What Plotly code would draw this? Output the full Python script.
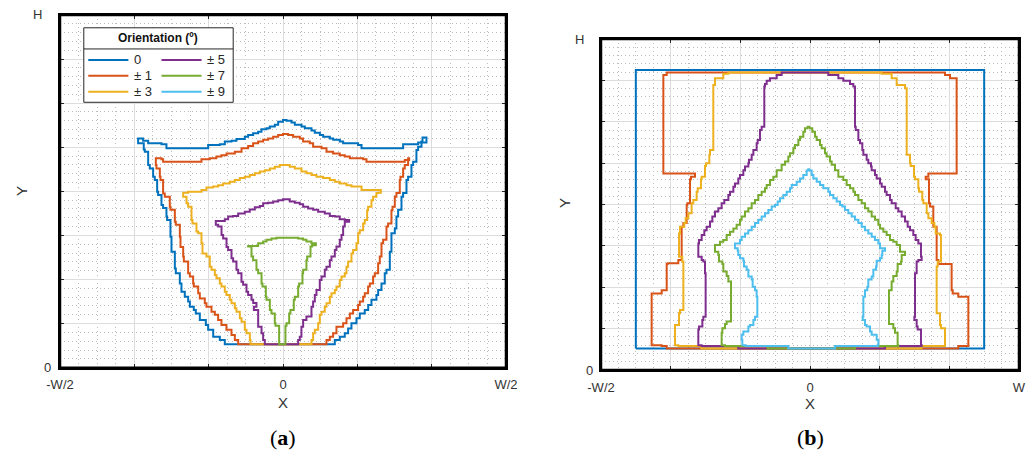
import plotly.graph_objects as go

# ---------------- data ----------------
COLORS = ["#0072BD", "#D95319", "#EDB120", "#7E2F8E", "#77AC30", "#4DBEEE"]
LEGEND_TITLE = "Orientation (º)"
LEGEND_LABELS = ["0", "± 1", "± 3", "± 5", "± 7", "± 9"]

X_TICKVALS = [-3, -2, -1, 0, 1, 2, 3]
X_TICKTEXT_A = ["-W/2", "", "", "0", "", "", "W/2"]
X_TICKTEXT_B = ["-W/2", "", "", "0", "", "", "W"]
Y_TICKVALS = [0, 1, 2, 3, 4, 5, 6, 7, 8]
Y_END_LABELS = ["0", "H"]

# panel (a): closed contours, (x, y) vertices
A0 = [(-0.716, 0.53), (-0.783, 0.63), (-0.85, 0.70), (-0.939, 0.86), (-1.007, 0.97), (-1.038, 1.08),
      (-1.119, 1.23), (-1.173, 1.31), (-1.2, 1.38), (-1.253, 1.50), (-1.276, 1.61), (-1.321, 1.72),
      (-1.366, 1.91), (-1.388, 2.14), (-1.442, 2.25), (-1.455, 2.63), (-1.5, 2.97), (-1.514, 3.35),
      (-1.559, 3.43), (-1.568, 3.62), (-1.613, 3.69), (-1.635, 3.92), (-1.680, 3.99), (-1.693, 4.26),
      (-1.725, 4.33), (-1.747, 4.52), (-1.792, 4.60), (-1.814, 4.90), (-1.859, 4.95), (-1.873, 5.09),
      (-1.949, 5.20), (-1.882, 5.15), (-1.814, 5.09), (-1.635, 5.07), (-1.568, 4.98), (-1.084, 4.98),
      (-1.007, 5.05), (-0.850, 5.07), (-0.783, 5.13), (-0.693, 5.15), (-0.626, 5.19), (-0.514, 5.24),
      (-0.469, 5.28), (-0.402, 5.32), (-0.334, 5.35), (-0.29, 5.41), (-0.222, 5.43), (-0.178, 5.47),
      (-0.11, 5.51), (-0.065, 5.58), (0.0, 5.62), (0.047, 5.60), (0.114, 5.56), (0.159, 5.51),
      (0.249, 5.47), (0.294, 5.43), (0.383, 5.38), (0.428, 5.33), (0.496, 5.28), (0.54, 5.24),
      (0.63, 5.20), (0.675, 5.17), (0.764, 5.13), (0.809, 5.09), (1.01, 5.05), (1.056, 4.98),
      (1.571, 4.98), (1.616, 5.07), (1.728, 5.07), (1.818, 5.11), (1.93, 5.22), (1.877, 5.13),
      (1.863, 5.01), (1.818, 4.94), (1.795, 4.67), (1.751, 4.60), (1.728, 4.33), (1.683, 4.26),
      (1.661, 3.96), (1.616, 3.88), (1.594, 3.58), (1.549, 3.43), (1.526, 3.16), (1.504, 3.05),
      (1.459, 2.63), (1.437, 2.22), (1.392, 2.14), (1.369, 1.91), (1.325, 1.76), (1.28, 1.65),
      (1.257, 1.54), (1.19, 1.42), (1.146, 1.31), (1.1, 1.23), (1.033, 1.12), (0.988, 1.01),
      (0.921, 0.89), (0.876, 0.78), (0.831, 0.70), (0.764, 0.63), (0.697, 0.53), (-0.716, 0.53)]

A1 = [(-0.581, 0.53), (-0.603, 0.63), (-0.648, 0.74), (-0.693, 0.86), (-0.761, 0.97), (-0.828, 1.08),
      (-0.873, 1.20), (-0.917, 1.27), (-0.962, 1.38), (-1.03, 1.46), (-1.052, 1.57), (-1.119, 1.69),
      (-1.141, 1.84), (-1.2, 1.91), (-1.209, 2.07), (-1.253, 2.14), (-1.276, 2.41), (-1.334, 2.52),
      (-1.343, 2.74), (-1.379, 2.97), (-1.388, 3.24), (-1.442, 3.31), (-1.455, 3.58), (-1.514, 3.65),
      (-1.523, 3.88), (-1.59, 3.95), (-1.613, 4.26), (-1.648, 4.33), (-1.657, 4.52), (-1.702, 4.60),
      (-1.711, 4.75), (-1.635, 4.73), (-1.613, 4.67), (-1.142, 4.67), (-1.097, 4.73), (-0.985, 4.75),
      (-0.896, 4.79), (-0.829, 4.82), (-0.76, 4.86), (-0.648, 4.90), (-0.558, 4.98), (-0.469, 5.03),
      (-0.402, 5.09), (-0.334, 5.13), (-0.267, 5.17), (-0.2, 5.20), (-0.132, 5.24), (-0.065, 5.28),
      (0.0, 5.30), (0.069, 5.28), (0.136, 5.24), (0.226, 5.20), (0.27, 5.13), (0.36, 5.09),
      (0.405, 5.01), (0.518, 4.98), (0.585, 4.90), (0.674, 4.86), (0.764, 4.82), (0.831, 4.79),
      (0.899, 4.75), (1.078, 4.73), (1.123, 4.67), (1.594, 4.67), (1.638, 4.71), (1.697, 4.75),
      (1.683, 4.60), (1.638, 4.52), (1.616, 4.33), (1.58, 4.26), (1.571, 3.96), (1.526, 3.88),
      (1.504, 3.65), (1.473, 3.57), (1.459, 3.27), (1.414, 3.20), (1.392, 2.90), (1.347, 2.82),
      (1.325, 2.52), (1.302, 2.37), (1.28, 2.14), (1.235, 2.07), (1.212, 1.91), (1.168, 1.84),
      (1.145, 1.69), (1.1, 1.61), (1.078, 1.50), (1.033, 1.42), (1.01, 1.31), (0.943, 1.23),
      (0.899, 1.12), (0.854, 1.01), (0.809, 0.93), (0.719, 0.78), (0.674, 0.70), (0.63, 0.63),
      (0.585, 0.53), (-0.581, 0.53)]

A3 = [(-0.424, 0.53), (-0.437, 0.63), (-0.446, 0.78), (-0.491, 0.86), (-0.514, 1.04), (-0.558, 1.12),
      (-0.581, 1.27), (-0.626, 1.35), (-0.648, 1.46), (-0.693, 1.54), (-0.716, 1.65), (-0.761, 1.72),
      (-0.783, 1.84), (-0.828, 1.91), (-0.85, 2.03), (-0.895, 2.10), (-0.917, 2.22), (-0.962, 2.29),
      (-0.985, 2.52), (-1.03, 2.59), (-1.083, 2.82), (-1.097, 3.05), (-1.141, 3.09), (-1.164, 3.27),
      (-1.218, 3.35), (-1.231, 3.65), (-1.276, 3.73), (-1.298, 3.88), (-1.343, 3.97), (-1.276, 3.99),
      (-1.097, 4.03), (-1.03, 4.09), (-0.94, 4.11), (-0.873, 4.14), (-0.806, 4.18), (-0.716, 4.22),
      (-0.649, 4.26), (-0.581, 4.30), (-0.514, 4.33), (-0.446, 4.37), (-0.379, 4.41), (-0.312, 4.45),
      (-0.244, 4.48), (-0.177, 4.52), (-0.11, 4.56), (-0.043, 4.60), (0.024, 4.60), (0.091, 4.56),
      (0.159, 4.52), (0.248, 4.45), (0.316, 4.41), (0.383, 4.37), (0.45, 4.33), (0.54, 4.30),
      (0.63, 4.26), (0.697, 4.22), (0.764, 4.18), (0.854, 4.14), (0.921, 4.11), (1.056, 4.03),
      (1.145, 4.03), (1.316, 3.97), (1.28, 3.96), (1.257, 3.88), (1.212, 3.80), (1.19, 3.65),
      (1.145, 3.57), (1.132, 3.35), (1.1, 3.27), (1.078, 3.12), (1.033, 3.05), (1.011, 2.82),
      (0.988, 2.67), (0.943, 2.59), (0.921, 2.41), (0.876, 2.29), (0.854, 2.14), (0.831, 2.07),
      (0.787, 1.99), (0.764, 1.84), (0.719, 1.76), (0.697, 1.69), (0.652, 1.61), (0.63, 1.46),
      (0.585, 1.38), (0.562, 1.27), (0.518, 1.20), (0.495, 1.01), (0.473, 0.86), (0.428, 0.78),
      (0.405, 0.63), (0.383, 0.53), (-0.424, 0.53)]

A5 = [(-0.231, 0.53), (-0.245, 0.63), (-0.267, 0.78), (-0.289, 0.93), (-0.334, 1.01), (-0.334, 1.31),
      (-0.392, 1.38), (-0.357, 1.47), (-0.401, 1.54), (-0.424, 1.65), (-0.469, 1.72), (-0.491, 1.88),
      (-0.536, 1.95), (-0.559, 2.14), (-0.603, 2.22), (-0.626, 2.41), (-0.671, 2.48), (-0.693, 2.67),
      (-0.738, 2.74), (-0.76, 2.93), (-0.805, 3.01), (-0.827, 3.20), (-0.872, 3.24), (-0.904, 3.33),
      (-0.783, 3.37), (-0.738, 3.43), (-0.671, 3.44), (-0.603, 3.50), (-0.514, 3.54), (-0.447, 3.59),
      (-0.379, 3.64), (-0.312, 3.67), (-0.267, 3.73), (-0.2, 3.74), (-0.132, 3.77), (-0.065, 3.80),
      (0.0, 3.82), (0.091, 3.77), (0.159, 3.74), (0.226, 3.71), (0.271, 3.65), (0.338, 3.61),
      (0.405, 3.58), (0.473, 3.54), (0.562, 3.50), (0.63, 3.44), (0.697, 3.43), (0.764, 3.37),
      (0.831, 3.35), (0.89, 3.31), (0.831, 3.20), (0.809, 3.01), (0.787, 2.90), (0.764, 2.75),
      (0.719, 2.67), (0.697, 2.52), (0.652, 2.44), (0.63, 2.29), (0.585, 2.22), (0.562, 2.07),
      (0.518, 1.99), (0.495, 1.76), (0.45, 1.65), (0.428, 1.50), (0.405, 1.38), (0.383, 1.16),
      (0.315, 1.08), (0.271, 0.93), (0.248, 0.70), (0.226, 0.63), (0.204, 0.53), (-0.231, 0.53)]

A7 = [(-0.043, 0.53), (-0.052, 0.95), (-0.101, 1.01), (-0.11, 1.23), (-0.155, 1.31), (-0.177, 1.54),
      (-0.222, 1.61), (-0.231, 1.84), (-0.276, 1.91), (-0.289, 2.14), (-0.334, 2.22), (-0.357, 2.44),
      (-0.402, 2.52), (-0.424, 2.75), (-0.469, 2.76), (-0.379, 2.76), (-0.334, 2.82), (-0.267, 2.86),
      (-0.222, 2.90), (-0.155, 2.93), (-0.088, 2.95), (0.0, 2.95), (0.136, 2.95), (0.204, 2.93),
      (0.271, 2.90), (0.315, 2.86), (0.383, 2.82), (0.442, 2.78), (0.392, 2.75), (0.37, 2.52),
      (0.325, 2.44), (0.315, 2.22), (0.271, 2.14), (0.262, 1.91), (0.217, 1.84), (0.204, 1.61),
      (0.159, 1.54), (0.145, 1.31), (0.1, 1.23), (0.083, 1.01), (0.047, 0.95), (0.033, 0.53),
      (-0.043, 0.53)]

# panel (b): closed contours, (x, y) vertices
B0 = [(-2.5, 0.52), (-2.5, 7.25), (2.5, 7.25), (2.5, 0.52), (-2.5, 0.52)]

B1 = [(-1.938, 7.19), (-2.057, 7.13), (-2.105, 7.05), (-2.105, 4.75), (-1.699, 4.75), (-1.651, 4.67),
      (-1.708, 4.61), (-1.722, 4.03), (-1.761, 3.99), (-1.770, 3.55), (-1.818, 3.46), (-1.842, 2.66),
      (-1.89, 2.58), (-2.043, 2.56), (-2.057, 1.93), (-2.129, 1.85), (-2.273, 1.77), (-2.273, 0.60),
      (-2.129, 0.58), (-2.057, 0.52), (2.057, 0.52), (2.129, 0.58), (2.273, 0.60), (2.273, 1.77),
      (2.129, 1.85), (2.048, 1.93), (2.033, 2.56), (1.89, 2.56), (1.842, 2.66), (1.818, 3.46),
      (1.77, 3.55), (1.77, 3.95), (1.722, 4.03), (1.708, 4.61), (1.660, 4.67), (1.699, 4.75),
      (2.105, 4.75), (2.105, 7.05), (2.01, 7.13), (1.938, 7.19), (-1.938, 7.19)]

B3 = [(-1.029, 7.19), (-1.172, 7.16), (-1.244, 7.05), (-1.364, 6.89), (-1.388, 6.81), (-1.388, 5.32),
      (-1.435, 5.20), (-1.445, 5.00), (-1.493, 4.93), (-1.507, 4.67), (-1.555, 4.61), (-1.565, 4.39),
      (-1.612, 4.31), (-1.627, 4.11), (-1.675, 4.03), (-1.699, 3.79), (-1.746, 3.67), (-1.785, 3.55),
      (-1.804, 3.46), (-1.866, 3.30), (-1.880, 3.26), (-1.880, 2.74), (-1.833, 2.62), (-1.818, 2.50),
      (-1.818, 1.45), (-1.866, 1.37), (-1.880, 1.09), (-1.938, 1.01), (-1.938, 0.60), (-1.89, 0.58),
      (-1.60, 0.58), (-1.56, 0.52), (1.56, 0.52), (1.60, 0.58), (1.89, 0.58), (1.938, 0.60),
      (1.938, 1.01), (1.880, 1.09), (1.866, 1.37), (1.818, 1.45), (1.818, 2.50), (1.833, 2.62),
      (1.880, 2.74), (1.880, 3.26), (1.866, 3.30), (1.804, 3.46), (1.785, 3.55), (1.746, 3.67),
      (1.699, 3.79), (1.675, 4.03), (1.627, 4.11), (1.612, 4.31), (1.565, 4.39), (1.555, 4.61),
      (1.507, 4.67), (1.493, 4.93), (1.445, 5.00), (1.435, 5.20), (1.388, 5.32), (1.388, 6.81),
      (1.364, 6.89), (1.244, 7.05), (1.172, 7.16), (1.029, 7.19), (-1.029, 7.19)]

B5 = [(-0.263, 7.19), (-0.407, 7.13), (-0.478, 7.05), (-0.574, 6.99), (-0.622, 6.91), (-0.646, 6.85),
      (-0.656, 5.88), (-0.694, 5.80), (-0.718, 5.56), (-0.751, 5.48), (-0.766, 5.32), (-0.813, 5.20),
      (-0.837, 5.08), (-0.876, 5.00), (-0.885, 4.92), (-0.933, 4.83), (-0.957, 4.71), (-1.005, 4.63),
      (-1.029, 4.51), (-1.077, 4.43), (-1.1, 4.31), (-1.148, 4.23), (-1.172, 4.11), (-1.23, 4.03),
      (-1.268, 3.91), (-1.316, 3.83), (-1.364, 3.71), (-1.402, 3.59), (-1.435, 3.46), (-1.483, 3.38),
      (-1.517, 3.26), (-1.555, 3.14), (-1.593, 3.06), (-1.603, 2.74), (-1.555, 2.66), (-1.531, 2.62),
      (-1.507, 2.34), (-1.498, 1.29), (-1.531, 1.21), (-1.545, 1.05), (-1.593, 0.98), (-1.603, 0.60),
      (-1.555, 0.58), (-1.077, 0.58), (-1.03, 0.52), (1.03, 0.52), (1.077, 0.58), (1.555, 0.58),
      (1.603, 0.60), (1.593, 0.98), (1.545, 1.05), (1.531, 1.21), (1.498, 1.29), (1.507, 2.34),
      (1.531, 2.62), (1.555, 2.66), (1.603, 2.74), (1.593, 3.06), (1.555, 3.14), (1.517, 3.26),
      (1.483, 3.38), (1.435, 3.46), (1.402, 3.59), (1.364, 3.71), (1.316, 3.83), (1.268, 3.91),
      (1.23, 4.03), (1.172, 4.11), (1.148, 4.23), (1.1, 4.31), (1.077, 4.43), (1.029, 4.51),
      (1.005, 4.63), (0.957, 4.71), (0.933, 4.83), (0.885, 4.92), (0.876, 5.00), (0.837, 5.08),
      (0.813, 5.20), (0.766, 5.32), (0.751, 5.48), (0.718, 5.56), (0.694, 5.80), (0.656, 5.88),
      (0.646, 6.85), (0.622, 6.91), (0.574, 6.99), (0.478, 7.05), (0.407, 7.13), (0.263, 7.19),
      (-0.263, 7.19)]

B7 = [(0.0, 5.88), (-0.033, 5.84), (-0.072, 5.76), (-0.096, 5.64), (-0.144, 5.56), (-0.167, 5.44),
      (-0.215, 5.36), (-0.239, 5.24), (-0.287, 5.16), (-0.311, 5.04), (-0.359, 4.96), (-0.407, 4.83),
      (-0.478, 4.67), (-0.526, 4.59), (-0.574, 4.47), (-0.622, 4.39), (-0.646, 4.31), (-0.694, 4.23),
      (-0.742, 4.11), (-0.789, 4.03), (-0.837, 3.91), (-0.885, 3.83), (-0.933, 3.71), (-0.981, 3.63),
      (-1.005, 3.51), (-1.053, 3.42), (-1.1, 3.34), (-1.148, 3.26), (-1.196, 3.14), (-1.244, 3.10),
      (-1.292, 3.02), (-1.364, 2.86), (-1.316, 2.78), (-1.306, 2.62), (-1.258, 2.56), (-1.244, 2.38),
      (-1.196, 2.27), (-1.172, 2.14), (-1.134, 1.93), (-1.134, 1.17), (-1.196, 1.11), (-1.22, 1.01),
      (-1.258, 0.90), (-1.268, 0.60), (-1.22, 0.58), (-0.646, 0.58), (-0.608, 0.52), (0.608, 0.52),
      (0.646, 0.58), (1.22, 0.58), (1.268, 0.60), (1.258, 0.90), (1.22, 1.01), (1.196, 1.11),
      (1.134, 1.17), (1.134, 1.93), (1.172, 2.14), (1.196, 2.27), (1.244, 2.38), (1.258, 2.56),
      (1.306, 2.62), (1.316, 2.78), (1.364, 2.86), (1.292, 3.02), (1.244, 3.10), (1.196, 3.14),
      (1.148, 3.26), (1.1, 3.34), (1.053, 3.42), (1.005, 3.51), (0.981, 3.63), (0.933, 3.71),
      (0.885, 3.83), (0.837, 3.91), (0.789, 4.03), (0.742, 4.11), (0.694, 4.23), (0.646, 4.31),
      (0.622, 4.39), (0.574, 4.47), (0.526, 4.59), (0.478, 4.67), (0.407, 4.83), (0.359, 4.96),
      (0.311, 5.04), (0.287, 5.16), (0.239, 5.24), (0.215, 5.36), (0.167, 5.44), (0.144, 5.56),
      (0.096, 5.64), (0.072, 5.76), (0.033, 5.84), (0.0, 5.88)]

B9 = [(0.0, 4.85), (-0.024, 4.82), (-0.048, 4.71), (-0.096, 4.63), (-0.144, 4.55), (-0.191, 4.47),
      (-0.263, 4.39), (-0.287, 4.31), (-0.335, 4.23), (-0.383, 4.15), (-0.431, 4.07), (-0.464, 3.99),
      (-0.502, 3.95), (-0.55, 3.87), (-0.598, 3.79), (-0.646, 3.71), (-0.694, 3.63), (-0.742, 3.55),
      (-0.789, 3.46), (-0.837, 3.38), (-0.885, 3.30), (-0.933, 3.22), (-0.981, 3.14), (-1.005, 3.06),
      (-1.077, 2.94), (-1.038, 2.88), (-1.029, 2.78), (-1.005, 2.70), (-0.957, 2.64), (-0.947, 2.50),
      (-0.909, 2.42), (-0.885, 2.26), (-0.837, 2.19), (-0.823, 2.01), (-0.789, 1.93), (-0.766, 1.77),
      (-0.756, 1.29), (-0.789, 1.21), (-0.813, 1.09), (-0.861, 1.05), (-0.885, 0.93), (-0.957, 0.85),
      (-0.981, 0.73), (-0.971, 0.60), (-0.923, 0.58), (-0.359, 0.58), (-0.311, 0.52), (0.311, 0.52),
      (0.359, 0.58), (0.923, 0.58), (0.971, 0.60), (0.981, 0.73), (0.957, 0.85), (0.885, 0.93),
      (0.861, 1.05), (0.813, 1.09), (0.789, 1.21), (0.756, 1.29), (0.766, 1.77), (0.789, 1.93),
      (0.823, 2.01), (0.837, 2.19), (0.885, 2.26), (0.909, 2.42), (0.947, 2.50), (0.957, 2.64),
      (1.005, 2.70), (1.029, 2.78), (1.038, 2.88), (1.077, 2.94), (1.005, 3.06), (0.981, 3.14),
      (0.933, 3.22), (0.885, 3.30), (0.837, 3.38), (0.789, 3.46), (0.742, 3.55), (0.694, 3.63),
      (0.646, 3.71), (0.598, 3.79), (0.55, 3.87), (0.502, 3.95), (0.464, 3.99), (0.431, 4.07),
      (0.383, 4.15), (0.335, 4.23), (0.287, 4.31), (0.263, 4.39), (0.191, 4.47), (0.144, 4.55),
      (0.096, 4.63), (0.048, 4.71), (0.024, 4.82), (0.0, 4.85)]

PANEL_A = [(A0, 0), (A1, 1), (A3, 2), (A5, 3), (A7, 4)]
PANEL_B = [(B0, 0), (B1, 1), (B3, 2), (B5, 3), (B7, 4), (B9, 5)]

# ---------------- figure ----------------
W, H = 1029, 450
fig = go.Figure()

for poly, ci in PANEL_A:
    xs, ys = zip(*poly)
    fig.add_trace(go.Scatter(x=list(xs), y=list(ys), mode="lines", xaxis="x", yaxis="y",
                             line=dict(color=COLORS[ci], width=2, shape="hv"), showlegend=False,
                             hoverinfo="skip"))
for poly, ci in PANEL_B:
    xs, ys = zip(*poly)
    fig.add_trace(go.Scatter(x=list(xs), y=list(ys), mode="lines", xaxis="x2", yaxis="y2",
                             line=dict(color=COLORS[ci], width=2, shape="hv"), showlegend=False,
                             hoverinfo="skip"))

FONT_FAMILY = "Liberation Sans, Arial, sans-serif"
TICKFONT = dict(family=FONT_FAMILY, size=13, color="#333333")


def axis_style(minor_dtick):
    return dict(showline=True, linewidth=2, linecolor="black", mirror="ticks",
                ticks="inside", ticklen=4, tickwidth=1, tickcolor="#262626",
                showgrid=True, gridcolor="#dddddd", gridwidth=1, zeroline=False,
                tickfont=TICKFONT, fixedrange=True, automargin=False,
                minor=dict(dtick=minor_dtick, showgrid=True, griddash="1px,3px",
                           gridcolor="#bdbdbd", gridwidth=1))


def px_x(p):
    return p / W


def px_y(p):
    return 1 - p / H


fig.update_layout(
    template="none",
    width=W, height=H, margin=dict(l=0, r=0, t=0, b=0, pad=0),
    paper_bgcolor="white", plot_bgcolor="white", showlegend=False,
    xaxis=dict(domain=[px_x(60), px_x(506)], range=[-3, 3], anchor="y",
               tickmode="array", tickvals=X_TICKVALS, ticktext=X_TICKTEXT_A,
               ticklabelstandoff=4, **axis_style(0.25)),
    yaxis=dict(domain=[px_y(367.7), px_y(15)], range=[0, 8], anchor="x",
               tickmode="array", tickvals=Y_TICKVALS, showticklabels=False,
               **axis_style(0.2)),
    xaxis2=dict(domain=[px_x(601), px_x(1019)], range=[-3, 3], anchor="y2",
                tickmode="array", tickvals=X_TICKVALS, ticktext=X_TICKTEXT_B,
                ticklabelstandoff=4, **axis_style(0.25)),
    yaxis2=dict(domain=[px_y(370), px_y(39)], range=[0, 8], anchor="x2",
                tickmode="array", tickvals=Y_TICKVALS, showticklabels=False,
                **axis_style(0.2)),
)

# y-axis end labels ("0" at bottom, "H" at top), placed as in the reference
for (xr, yr, x0_right, xh_right) in [("x domain", "y", 53, 44), ("x2 domain", "y2", 595, 586)]:
    dom_left = 60 if xr == "x domain" else 601
    dom_w = (506 - 60) if xr == "x domain" else (1019 - 601)
    for lab, yv, xr_px in [(Y_END_LABELS[0], Y_TICKVALS[0], x0_right),
                           (Y_END_LABELS[1], Y_TICKVALS[-1], xh_right)]:
        fig.add_annotation(x=(xr_px - dom_left) / dom_w, y=yv, xref=xr, yref=yr, text=lab,
                           showarrow=False, xanchor="right", yanchor="middle",
                           font=TICKFONT)

# axes frames
for xr, yr in [("x domain", "y domain"), ("x2 domain", "y2 domain")]:
    fig.add_shape(type="rect", xref=xr, yref=yr, x0=0, x1=1, y0=0, y1=1,
                  line=dict(color="black", width=2.5), fillcolor="rgba(0,0,0,0)", layer="above")

# legend box (drawn in panel a's axes coordinates)
LEG_BOX = dict(x0=-2.68, x1=-0.67, y0=6.02, y1=7.71)
fig.add_shape(type="rect", xref="x", yref="y", line=dict(color="#262626", width=1),
              fillcolor="white", layer="above", **LEG_BOX)
fig.add_shape(type="line", xref="x", yref="y", x0=LEG_BOX["x0"], x1=LEG_BOX["x1"],
              y0=7.23, y1=7.23, line=dict(color="#262626", width=1), layer="above")
fig.add_annotation(x=(LEG_BOX["x0"] + LEG_BOX["x1"]) / 2, y=7.47, xref="x", yref="y",
                   text="<b>" + LEGEND_TITLE + "</b>", showarrow=False,
                   font=dict(family=FONT_FAMILY, size=12, color="#111111"))
col_x = [(-2.62, -2.08, -2.03), (-1.635, -1.096, -1.05)]
row_y = [6.98, 6.62, 6.26]
for i, lab in enumerate(LEGEND_LABELS):
    c, r = divmod(i, 3)
    x0, x1, xt = col_x[c]
    fig.add_shape(type="line", xref="x", yref="y", x0=x0, x1=x1, y0=row_y[r], y1=row_y[r],
                  line=dict(color=COLORS[i], width=2), layer="above")
    fig.add_annotation(x=xt, y=row_y[r], xref="x", yref="y", text=lab, showarrow=False,
                       xanchor="left", yanchor="middle",
                       font=dict(family=FONT_FAMILY, size=13, color="#262626"))

TITLE_FONT = dict(family=FONT_FAMILY, size=15, color="#333333")
for (xp, yp, txt, ang) in [(283, 402, "X", 0), (22, 191, "Y", -90),
                           (810, 403, "X", 0), (564, 203, "Y", -90)]:
    fig.add_annotation(x=px_x(xp), y=px_y(yp), xref="paper", yref="paper", text=txt,
                       showarrow=False, textangle=ang, xanchor="center", yanchor="middle",
                       font=TITLE_FONT)

for (xp, txt) in [(283, "(<b>a</b>)"), (810, "(<b>b</b>)")]:
    fig.add_annotation(x=px_x(xp), y=px_y(437), xref="paper", yref="paper", text=txt,
                       showarrow=False, xanchor="center", yanchor="middle",
                       font=dict(family="Liberation Serif, DejaVu Serif, serif", size=22, color="black"))

fig.write_html("out.html", config={"displayModeBar": False},
               post_script="document.body.style.margin='0';document.body.style.overflow='hidden';")
